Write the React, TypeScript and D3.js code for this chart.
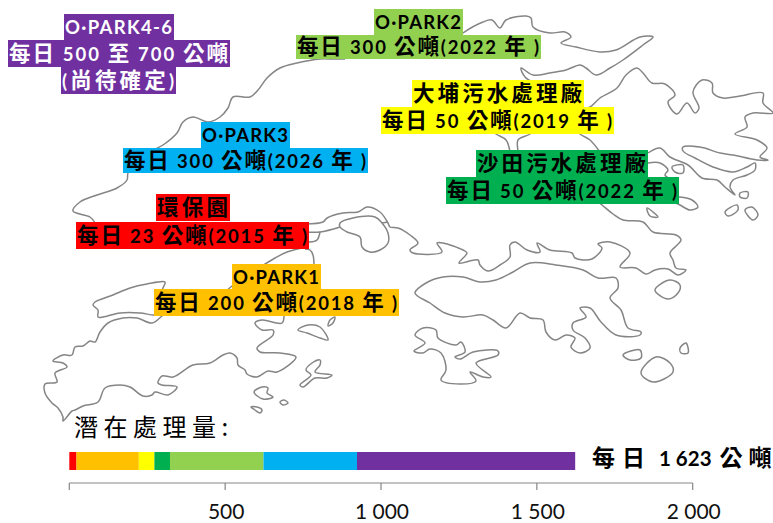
import React from "react";
import * as d3 from "d3";

type P = [number, number];

// ---------- data ----------
const capacityNames = ["環保園", "O·PARK1", "大埔污水處理廠", "沙田污水處理廠", "O·PARK2", "O·PARK3", "O·PARK4-6"];
const capacityValues = [23, 200, 50, 50, 300, 300, 700];
const capacityColors = ["#ff0000", "#ffc000", "#ffff00", "#00b050", "#92d050", "#00b0f0", "#7030a0"];
const axisTicks = [0, 500, 1000, 1500, 2000];
const tickLabels = ["", "500", "1 000", "1 500", "2 000"];

const labelLines: string[][] = [
  ["環保園", "每日 23 公噸(2015 年 )"],
  ["O·PARK1", "每日 200 公噸(2018 年 )"],
  ["大埔污水處理廠", "每日 50 公噸(2019 年 )"],
  ["沙田污水處理廠", "每日 50 公噸(2022 年 )"],
  ["O·PARK2", "每日 300 公噸(2022 年 )"],
  ["O·PARK3", "每日 300 公噸(2026 年 )"],
  ["O·PARK4-6", "每日 500 至 700 公噸", "(尚待確定)"],
];
const labelTextColors = ["#000", "#000", "#000", "#000", "#000", "#000", "#fff"];
// [x0, x1, y0, y1] of each label line
const labelBoxes: number[][][] = [
  [[156, 230, 194, 221], [76, 309, 222, 249]],
  [[232, 321, 264, 289], [154, 399, 289, 316]],
  [[412, 584, 80, 107], [381, 614, 107, 134]],
  [[476, 648, 150, 177], [446, 679, 177, 204]],
  [[374, 463, 9, 35], [296, 541, 35, 59]],
  [[201, 290, 122, 148], [123, 368, 148, 173]],
  [[64, 174, 14, 40], [8, 230, 40, 67], [61, 176, 67, 94]],
];
const potentialTitle = "潛在處理量:";
// each part of the total label with the gap that follows it
const totalParts = ["每", "日", "1 623", "公", "噸"];
const totalGaps = [7, 14, 8, 6, 0];

// ---------- coastline ----------
const openCoasts: P[][] = [
  [[345,59],[333,59],[320,59],[297,63],[280,68],[267,78],[258,90],[250,97],[233,97],[228,108],[220,117],[208,122],[193,117],[183,122],[177,133],[163,145],[150,152],[135,165],[128,173],[127,180],[117,188],[97,195],[80,202],[73,211],[90,217],[95,223],[100,235]],
  [[455,40],[463,33],[483,22],[492,20],[500,28],[506,20],[526,16],[531,18],[533,27],[550,33],[565,32],[571,37],[561,43],[576,47],[600,52],[616,50],[640,37],[653,37],[643,45],[623,60],[610,68],[596,75],[586,68],[580,65],[566,70],[550,73],[533,75],[521,68],[525,77],[535,83]],
  [[575,112],[590,107],[600,98],[617,88],[626,75],[637,68],[643,73],[652,83],[665,84],[675,95],[668,102],[677,114],[687,103],[695,113],[699,108],[693,92],[702,80],[712,83],[713,93],[723,98],[740,96],[763,93],[763,103],[773,113],[753,113],[745,117],[747,127],[735,134],[757,140],[767,148],[760,157],[768,160],[757,160],[733,155],[720,153],[700,147],[683,147],[683,151],[695,158],[713,167],[733,172],[747,167],[755,163],[755,170],[747,175],[733,180],[730,187],[735,195],[725,187],[717,180],[702,178],[688,165],[670,157],[660,148],[648,153]],
  [[648,163],[660,163],[668,170],[665,175],[672,180]],
  [[672,197],[679,197],[692,200],[698,207],[690,210],[680,205],[670,200]],
  [[590,195],[602,205],[613,214],[623,220],[643,222],[653,232],[676,235],[681,240],[670,253],[673,260],[676,268],[686,270],[678,275],[668,269],[655,270],[646,274],[636,268],[620,267],[630,253],[610,242],[598,244],[602,248],[592,259],[575,258],[572,253],[550,250],[537,243],[540,252],[527,250],[515,242],[510,245],[510,257],[500,265],[488,271],[480,265],[478,260],[459,263],[467,253],[463,250],[443,243],[437,243],[442,252],[413,253],[410,250],[418,243],[410,235],[398,228],[390,227],[388,223],[380,212],[367,207],[358,212],[343,213],[327,218],[323,222],[305,224]],
  [[490,128],[496,134],[506,140],[510,152],[510,160]],
  [[518,160],[518,152],[518,140],[530,134],[536,128]],
  [[575,128],[580,134],[590,140],[600,152]],
  [[305,232],[320,232],[340,227]],
  [[305,241],[310,242],[317,240],[320,232]],
  [[305,249],[310,250],[313,255],[314,266]],
  [[262,266],[275,258],[287,252],[306,247]],
  [[222,295],[232,286],[240,280]],
  [[388,222],[382,223]],
  [[175,305],[163,315],[152,323],[137,318],[123,318],[108,323],[100,332],[95,342],[90,341],[83,346],[75,347],[72,355],[63,355],[53,361],[63,363],[67,367],[55,373],[57,382],[45,384],[45,393],[52,403],[58,408],[63,417],[63,421],[72,411],[75,410],[83,406],[98,402],[105,388],[120,385],[130,387],[143,396],[152,395],[155,392],[168,395],[177,387],[162,385],[158,383],[162,376],[173,377],[193,365],[210,363],[223,355],[230,353],[237,358],[238,365],[245,370],[247,374],[257,377],[268,371],[277,372],[296,357],[280,353],[260,352],[257,348],[273,335],[273,330],[262,330],[255,323],[262,320],[282,323],[284,314]],
  [[158,314],[154,315],[140,313],[120,313],[103,317],[98,317],[98,310],[93,305],[95,302],[113,295],[130,288],[147,284],[165,282],[163,288],[160,294]],
];
const closedCoasts: P[][] = [
  [[340,223],[353,218],[375,217],[382,223],[388,233],[388,243],[380,250],[370,252],[362,247],[360,237],[347,232],[340,227]],
  [[415,293],[426,283],[443,277],[463,277],[480,282],[496,280],[513,272],[530,263],[556,265],[583,270],[598,278],[616,278],[618,288],[610,298],[621,310],[628,328],[641,332],[640,335],[616,335],[601,322],[590,308],[580,308],[586,317],[573,323],[573,330],[585,338],[590,348],[580,353],[571,347],[575,338],[566,335],[555,340],[546,332],[543,320],[530,318],[520,313],[506,328],[493,320],[483,315],[463,317],[445,313],[430,303]],
  [[423,328],[436,330],[438,338],[456,345],[461,342],[465,352],[455,357],[460,359],[473,352],[498,351],[498,355],[476,363],[491,377],[483,377],[470,372],[476,381],[460,384],[441,380],[446,370],[441,353],[430,349],[423,353],[414,351],[425,343],[415,335]],
  [[623,355],[640,350],[641,358],[630,360]],
  [[641,373],[656,357],[670,363],[673,372],[653,382]],
  [[680,348],[686,343],[688,353],[681,353]],
  [[655,290],[670,280],[680,285],[678,293],[668,299]],
  [[725,212],[737,205],[738,210],[728,216]],
  [[745,210],[752,207],[758,215],[753,220]],
  [[740,193],[748,192],[747,198],[740,197]],
  [[647,208],[653,212],[658,217],[650,216]],
  [[672,167],[683,165],[683,173],[675,172]],
  [[298,330],[308,325],[320,327],[328,340],[320,338],[307,333]],
  [[330,320],[335,317],[333,323],[328,326]],
  [[312,363],[320,360],[320,365],[315,372],[332,375],[327,378],[315,378],[303,387],[300,385],[311,375],[306,370]],
  [[254,392],[262,387],[268,388],[267,393],[273,397],[263,399]],
  [[280,402],[284,400],[288,403],[283,405]],
  [[251,407],[257,407],[262,410],[260,413],[255,410]],
];

// ---------- scales and shapes ----------
const WIDTH = 773;
const HEIGHT = 523;
const x = d3.scaleLinear().domain([0, 2000]).range([69.3, 692.7]);
const openLine = d3.line<P>().curve(d3.curveCatmullRom.alpha(0.5));
const closedLine = d3.line<P>().curve(d3.curveCatmullRomClosed.alpha(0.5));
const cumulative = d3.cumsum(capacityValues);
const FONT = "Lato, 'Noto Sans CJK TC', sans-serif";
const CJK = "'Noto Sans CJK TC', sans-serif";

const isCjk = (s: string) => /[\u3000-\u9fff]/.test(s);
// splits a label into CJK and Latin runs, which are set at different sizes
const runs = (s: string) => s.match(/[\u3000-\u9fff]+|[^\u3000-\u9fff]+/g) ?? [];

export default function App() {
  return (
    <svg
      width={WIDTH}
      height={HEIGHT}
      viewBox={`0 0 ${WIDTH} ${HEIGHT}`}
      style={{ position: "absolute", left: 0, top: 0, background: "#fff" }}
      fontFamily={FONT}
    >
      <defs>
        <filter id="soft" x="-5%" y="-5%" width="110%" height="110%">
          <feGaussianBlur stdDeviation="0.35" />
        </filter>
      </defs>
      <g fill="none" stroke="#858585" strokeWidth={1.5} strokeLinejoin="round" filter="url(#soft)">
        {openCoasts.map((c, i) => <path key={i} d={openLine(c) ?? ""} />)}
        {closedCoasts.map((c, i) => <path key={i} d={closedLine(c) ?? ""} />)}
      </g>

      {labelLines.map((lines, i) => (
        <g key={i}>
          {lines.map((t, j) => {
            const [x0, x1, y0, y1] = labelBoxes[i][j];
            return (
              <g key={j}>
                <rect x={x0} y={y0} width={x1 - x0} height={y1 - y0} fill={capacityColors[i]} />
                <text
                  x={x0 + 1}
                  y={(y0 + y1) / 2 + 7}
                  textLength={x1 - x0 - 3}
                  lengthAdjust="spacing"
                  fontWeight={700}
                  fill={labelTextColors[i]}
                  style={{ whiteSpace: "pre" }}
                >
                  {runs(t).map((r, k) => (
                    <tspan key={k} fontSize={isCjk(r) ? 21.5 : 18.5} fontFamily={isCjk(r) ? CJK : FONT}>{r}</tspan>
                  ))}
                </text>
              </g>
            );
          })}
        </g>
      ))}

      <text x={74} y={436} letterSpacing={5.5} fontSize={24} fontFamily={CJK} fontWeight={400} fill="#000">
        {potentialTitle}
      </text>

      {capacityValues.map((v, i) => (
        <rect
          key={capacityNames[i]}
          x={x(cumulative[i] - v)}
          y={452}
          width={x(cumulative[i]) - x(cumulative[i] - v)}
          height={18}
          fill={capacityColors[i]}
        />
      ))}

      <text x={592} y={466} fontWeight={700} fill="#000">
        {totalParts.map((p, i) => (
          <tspan
            key={i}
            fontSize={isCjk(p) ? 23 : 20.5}
            fontFamily={isCjk(p) ? CJK : FONT}
            dx={i === 0 ? 0 : totalGaps[i - 1]}
            style={{ whiteSpace: "pre" }}
          >
            {p}
          </tspan>
        ))}
      </text>

      <g>
        <line x1={x(0)} x2={x(2000)} y1={483} y2={483} stroke="#868686" strokeWidth={1.2} />
        {axisTicks.map((t, i) => (
          <g key={t}>
            <line x1={x(t)} x2={x(t)} y1={483} y2={490} stroke="#868686" strokeWidth={1.2} />
            {tickLabels[i] && (
              <text x={x(t) + 1} y={518.5} textAnchor="middle" fontSize={21} fill="#111">
                {tickLabels[i]}
              </text>
            )}
          </g>
        ))}
      </g>
    </svg>
  );
}
